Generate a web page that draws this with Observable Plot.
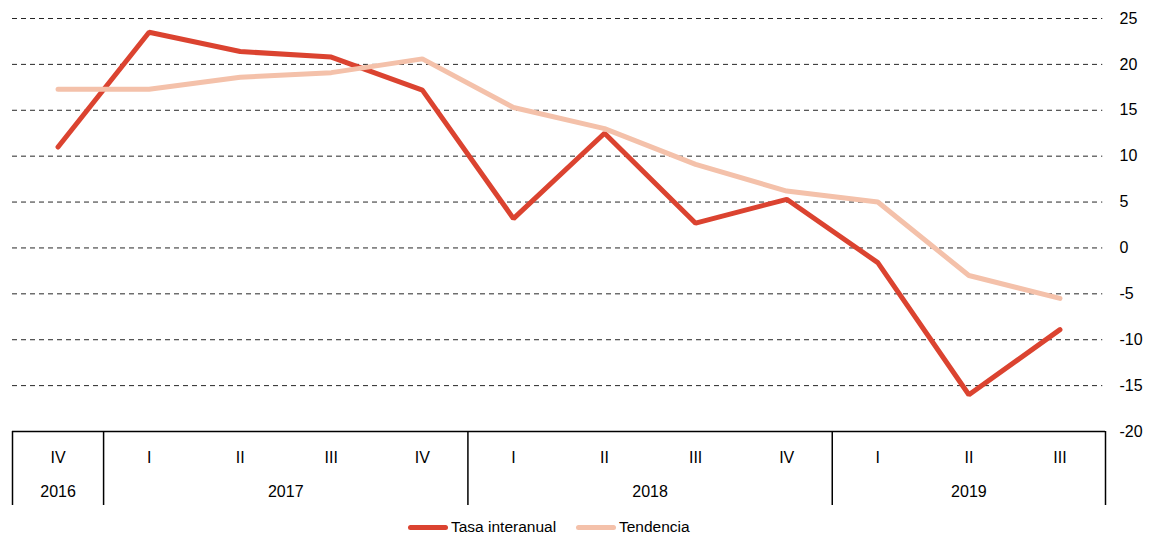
<!DOCTYPE html>
<html>
<head>
<meta charset="utf-8">
<script src="https://cdn.jsdelivr.net/npm/d3@7"></script>
<script src="https://cdn.jsdelivr.net/npm/@observablehq/plot@0.6"></script>
<style>
  html, body { margin: 0; padding: 0; background: #fff; }
  body { width: 1154px; height: 537px; overflow: hidden; font-family: "Liberation Sans", Arial, sans-serif; }
  #legend { position: relative; height: 22px; margin-top: 6px; font-size: 15.5px; color: #000; }
  .item { position: absolute; top: 0; display: flex; align-items: center; height: 22px; }
  .sw { width: 40px; height: 5px; border-radius: 3px; margin-right: 3px; }
</style>
</head>
<body>
<div id="chart"></div>
<div id="legend"></div>
<script>
const quarters = ["IV", "I", "II", "III", "IV", "I", "II", "III", "IV", "I", "II", "III"];
const years = [
  {label: "2016", center: 0},
  {label: "2017", center: 2.5},
  {label: "2018", center: 6.5},
  {label: "2019", center: 10}
];
const yearBounds = [-0.5, 0.5, 4.5, 8.5, 11.5];
const tasaInteranual = [11.0, 23.5, 21.4, 20.8, 17.2, 3.2, 12.5, 2.7, 5.3, -1.6, -16.0, -8.9];
const tendencia = [17.3, 17.3, 18.6, 19.1, 20.6, 15.3, 13.0, 9.1, 6.2, 5.0, -3.0, -5.5];
const yTicks = [25, 20, 15, 10, 5, 0, -5, -10, -15, -20];
const gridTicks = [25, 20, 15, 10, 5, 0, -5, -10, -15];

const colorTasa = "#db4330";
const colorTend = "#f4c1aa";

const tasaData = tasaInteranual.map((v, i) => ({i, v}));
const tendData = tendencia.map((v, i) => ({i, v}));
const qData = quarters.map((q, i) => ({i, q}));

const boxBottom = -28.06; // y value of the lower edge of the category box

const plot = Plot.plot({
  width: 1154,
  height: 510,
  marginLeft: 12,
  marginRight: 49,
  marginTop: 18,
  marginBottom: 79,
  style: {fontFamily: "'Liberation Sans', Arial, sans-serif", fontSize: "16px", color: "#000", background: "#fff"},
  x: {domain: [-0.5, 11.5], axis: null},
  y: {domain: [-20, 25], axis: null},
  marks: [
    Plot.ruleY(gridTicks, {x1: -0.5, x2: 11.47, stroke: "#000", strokeWidth: 1, strokeDasharray: "5,4", strokeOpacity: 0.85}),
    Plot.axisY({anchor: "right", ticks: yTicks, tickSize: 0, tickPadding: 14, textAnchor: "start", fontSize: 16, label: null, tickFormat: d => String(d)}),
    Plot.ruleY([-20], {x1: -0.5, x2: 11.5, stroke: "#000", strokeWidth: 1.5}),
    Plot.ruleX(yearBounds, {y1: -20, y2: boxBottom, stroke: "#000", strokeWidth: 1.5}),
    Plot.text(qData, {x: "i", text: "q", frameAnchor: "bottom", dy: 31, fontSize: 16, fill: "#000"}),
    Plot.text(years, {x: "center", text: "label", frameAnchor: "bottom", dy: 65, fontSize: 16, fill: "#000"}),
    Plot.line(tasaData, {x: "i", y: "v", stroke: colorTasa, strokeWidth: 5, strokeLinecap: "round", strokeLinejoin: "miter"}),
    Plot.line(tendData, {x: "i", y: "v", stroke: colorTend, strokeWidth: 5, strokeLinecap: "round", strokeLinejoin: "miter"})
  ]
});
document.getElementById("chart").appendChild(plot);

const legendItems = [
  {label: "Tasa interanual", color: colorTasa, left: 408},
  {label: "Tendencia", color: colorTend, left: 576}
];
const legend = document.getElementById("legend");
legendItems.forEach(it => {
  const d = document.createElement("div");
  d.className = "item";
  d.style.left = it.left + "px";
  const s = document.createElement("span");
  s.className = "sw";
  s.style.background = it.color;
  const t = document.createElement("span");
  t.textContent = it.label;
  d.appendChild(s);
  d.appendChild(t);
  legend.appendChild(d);
});
</script>
</body>
</html>
